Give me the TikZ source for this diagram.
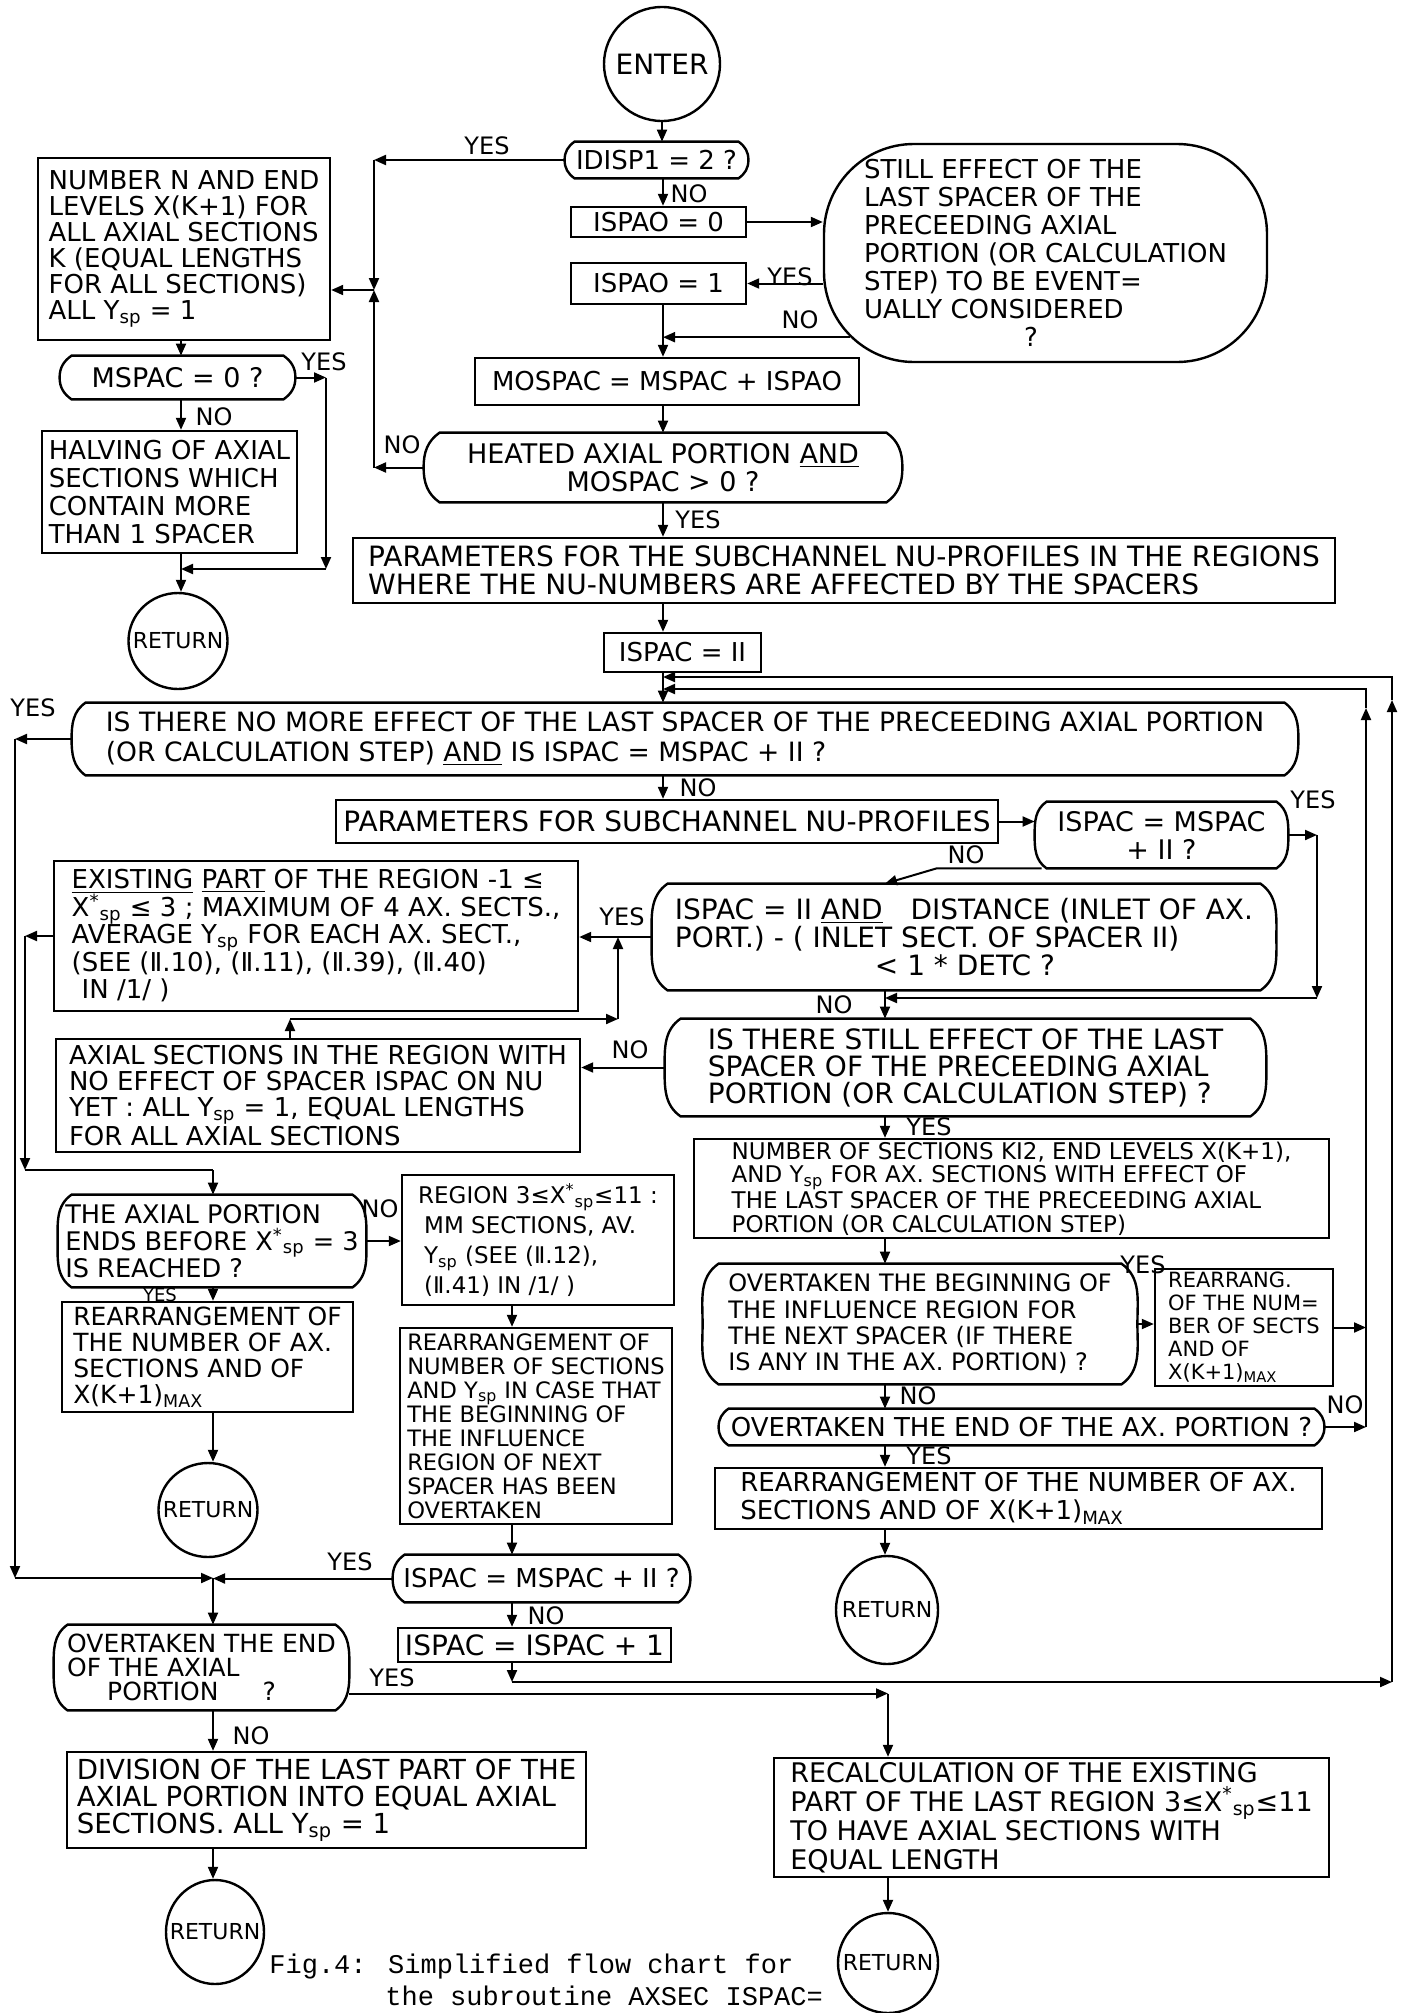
\documentclass[tikz,border=0pt]{standalone}
\usepackage{fontspec}
\setmainfont{DejaVu Sans}
\newfontfamily\capfont{Liberation Mono}
\usetikzlibrary{arrows.meta,shapes.geometric,calc}
\newcommand\Ysp{Y\textsubscript{sp}}
\newcommand\Xsp{X\textsuperscript{*}\textsubscript{sp}}
\newcommand\RII{Ⅱ}
\newcommand\decis[2]{\draw[boxline] ([xshift=#2]#1.north west) -- ([xshift=-#2]#1.north east) to[out=-35,in=90] (#1.east) to[out=-90,in=35] ([xshift=-#2]#1.south east) -- ([xshift=#2]#1.south west) to[out=145,in=-90] (#1.west) to[out=90,in=-145] ([xshift=#2]#1.north west) -- cycle;}
\newcommand\fs[2]{\fontsize{#1}{#2}\selectfont}
\begin{document}
\begin{tikzpicture}[x=0.5pt,y=-0.5pt,
  every node/.style={font=\fs{13}{14}},
  boxline/.style={draw, line width=1.2pt},
  boxn/.style={draw, line width=1.2pt, rectangle, inner sep=0pt, align=left},
  decn/.style={rectangle, inner sep=0pt, align=left},
  term/.style={draw, ellipse, line width=1.2pt, inner sep=0pt, font=\fs{11}{12}},
  lab/.style={font=\fs{12}{12}, inner sep=0pt},
  arr/.style={line width=1pt, -{Triangle[length=6pt,width=5pt]}},
  ln/.style={line width=1pt}]
\useasboundingbox (0,0) rectangle (1404,2013);
% axes
\coordinate (mx) at (663,0);
\coordinate (rx) at (885,0);
\coordinate (lx) at (181,0);
\coordinate (bx) at (213,0);
\coordinate (gx) at (512,0);
% ---------------- nodes
\node[term, minimum width=58pt, minimum height=57pt, font=\fs{14}{14}] (enter) at (662,64) {\makebox[0pt]{ENTER}};
\node[decn, minimum width=91.5pt, minimum height=18pt] (idisp) at (656.5,160) {IDISP1 = 2 ?};
\decis{idisp}{5pt}
\node[boxn, minimum width=87.5pt, minimum height=15pt] (ispao0) at (658.5,222) {ISPAO = 0};
\node[boxn, minimum width=87.5pt, minimum height=20.5pt] (ispao1) at (658.5,283.5) {ISPAO = 1};
\node[boxn, rounded corners=45pt, minimum width=221.5pt, minimum height=109pt] (still) at (1045.5,253) {STILL EFFECT OF THE\\LAST SPACER OF THE\\PRECEEDING AXIAL\\PORTION (OR CALCULATION\\STEP) TO BE EVENT=\\UALLY CONSIDERED\\\hspace*{80pt}?};
\node[boxn, minimum width=192pt, minimum height=23.5pt] (mospac) at (667,381.5) {MOSPAC = MSPAC + ISPAO};
\node[decn, minimum width=239pt, minimum height=34.5pt, align=center, font=\fs{13.5}{14}] (heated) at (663,467.5) {HEATED AXIAL PORTION \underline{AND}\\MOSPAC > 0 ?};
\decis{heated}{8pt}
\node[boxn, minimum width=491pt, minimum height=32.5pt, font=\fs{14}{14}] (params) at (844,570.5) {PARAMETERS FOR THE SUBCHANNEL NU-PROFILES IN THE REGIONS\\WHERE THE NU-NUMBERS ARE AFFECTED BY THE SPACERS};
\node[boxn, minimum width=78.5pt, minimum height=19.5pt] (ispacii) at (682.5,652.5) {ISPAC = II};
\node[decn, minimum width=613pt, minimum height=36pt, font=\fs{13.3}{15}] (isthere) at (685,739) {IS THERE NO MORE EFFECT OF THE LAST SPACER OF THE PRECEEDING AXIAL PORTION\\(OR CALCULATION STEP) \underline{AND} IS ISPAC = MSPAC + II ?};
\decis{isthere}{7pt}
\node[boxn, minimum width=331pt, minimum height=21.5pt, font=\fs{14}{14}] (par2) at (667,821.5) {PARAMETERS FOR SUBCHANNEL NU-PROFILES};
\node[decn, minimum width=126.5pt, minimum height=33pt, align=center, font=\fs{13.5}{14}] (ispmsp) at (1161.5,835) {ISPAC = MSPAC\\+ II ?};
\decis{ispmsp}{6pt}
\node[decn, minimum width=312pt, minimum height=53pt, font=\fs{14}{14}] (ispii) at (964,937) {ISPAC = II \underline{AND}\quad DISTANCE (INLET OF AX.\\PORT.) - ( INLET SECT. OF SPACER II)\\\hspace*{100pt}< 1 * DETC ?};
\decis{ispii}{8pt}
\node[boxn, minimum width=262pt, minimum height=75pt, font=\fs{13}{13.75}] (existing) at (316,936) {\underline{EXISTING} \underline{PART} OF THE REGION -1 ≤\\\Xsp\ ≤ 3 ; MAXIMUM OF 4 AX. SECTS.,\\AVERAGE \Ysp\ FOR EACH AX. SECT.,\\(SEE (\RII.10), (\RII.11), (\RII.39), (\RII.40)\\\hspace*{5pt}IN /1/ )};
\node[boxn, minimum width=262pt, minimum height=56.5pt, font=\fs{13}{13}] (axial) at (318,1095.5) {AXIAL SECTIONS IN THE REGION WITH\\NO EFFECT OF SPACER ISPAC ON NU\\YET : ALL \Ysp\ = 1, EQUAL LENGTHS\\FOR ALL AXIAL SECTIONS};
\node[decn, minimum width=300.5pt, minimum height=48.5pt, font=\fs{14}{13.5}] (still2) at (965.5,1067.5) {IS THERE STILL EFFECT OF THE LAST\\SPACER OF THE PRECEEDING AXIAL\\PORTION (OR CALCULATION STEP) ?};
\decis{still2}{8pt}
\node[boxn, minimum width=317.5pt, minimum height=49.5pt, font=\fs{11.5}{11.8}] (numsec) at (1011.5,1188.5) {NUMBER OF SECTIONS KI2, END LEVELS X(K+1),\\AND \Ysp\ FOR AX. SECTIONS WITH EFFECT OF\\THE LAST SPACER OF THE PRECEEDING AXIAL\\PORTION (OR CALCULATION STEP)};
\node[decn, minimum width=217pt, minimum height=60pt, font=\fs{12}{13.2}] (overbeg) at (920,1324) {OVERTAKEN THE BEGINNING OF\\THE INFLUENCE REGION FOR\\THE NEXT SPACER (IF THERE\\IS ANY IN THE AX. PORTION) ?};
\decis{overbeg}{8pt}
\node[boxn, minimum width=89pt, minimum height=58.5pt, font=\fs{10.5}{11.5}] (rearr1) at (1244,1327.5) {REARRANG.\\OF THE NUM=\\BER OF SECTS\\AND OF\\X(K+1)\textsubscript{MAX}};
\node[decn, minimum width=302.5pt, minimum height=18pt, font=\fs{13}{13}] (overend) at (1021.5,1427) {OVERTAKEN THE END OF THE AX. PORTION ?};
\decis{overend}{5pt}
\node[boxn, minimum width=303.5pt, minimum height=30.5pt, font=\fs{13}{14}] (rearr2) at (1018.5,1498.5) {REARRANGEMENT OF THE NUMBER OF AX.\\SECTIONS AND OF X(K+1)\textsubscript{MAX}};
\node[term, minimum width=51pt, minimum height=54pt] (ret3) at (887,1610) {\makebox[0pt]{RETURN}};
\node[decn, minimum width=154pt, minimum height=46pt, font=\fs{12.8}{13.5}] (axend) at (212,1241) {THE AXIAL PORTION\\ENDS BEFORE \Xsp\ = 3\\IS REACHED ?};
\decis{axend}{7pt}
\node[boxn, minimum width=136pt, minimum height=65pt, font=\fs{11.5}{15}] (region) at (538,1240) {REGION 3≤\Xsp≤11 :\\\hspace*{3pt}MM SECTIONS, AV.\\\hspace*{3pt}\Ysp\ (SEE (\RII.12),\\\hspace*{3pt}(\RII.41) IN /1/ )};
\node[boxn, minimum width=145.5pt, minimum height=55pt, font=\fs{12.5}{13}] (rearr3) at (207.5,1357) {REARRANGEMENT OF\\THE NUMBER OF AX.\\SECTIONS AND OF\\X(K+1)\textsubscript{MAX}};
\node[term, minimum width=49.5pt, minimum height=47pt] (ret2) at (208,1510) {\makebox[0pt]{RETURN}};
\node[boxn, minimum width=136pt, minimum height=98pt, font=\fs{11.3}{12}] (rearr4) at (536,1426) {REARRANGEMENT OF\\NUMBER OF SECTIONS\\AND \Ysp\ IN CASE THAT\\THE BEGINNING OF\\THE INFLUENCE\\REGION OF NEXT\\SPACER HAS BEEN\\OVERTAKEN};
\node[decn, minimum width=148.5pt, minimum height=23.5pt, font=\fs{13}{13}] (ispmsp2) at (541.5,1578.5) {ISPAC = MSPAC + II ?};
\decis{ispmsp2}{6pt}
\node[boxn, minimum width=136.5pt, minimum height=17pt, font=\fs{14}{14}] (ispinc) at (534.5,1645) {ISPAC = ISPAC + 1};
\node[decn, minimum width=147.5pt, minimum height=42.5pt, font=\fs{12.5}{12}] (overend2) at (201.5,1667.5) {OVERTAKEN THE END\\OF THE AXIAL\\\hspace*{20pt}PORTION\hspace*{22pt}?};
\decis{overend2}{7pt}
\node[boxn, minimum width=259.5pt, minimum height=48pt, font=\fs{13.8}{13.5}] (division) at (326.5,1800) {DIVISION OF THE LAST PART OF THE\\AXIAL PORTION INTO EQUAL AXIAL\\SECTIONS. ALL \Ysp\ = 1};
\node[boxn, minimum width=277.5pt, minimum height=59.5pt, font=\fs{13.5}{14.5}] (recalc) at (1051.5,1817.5) {RECALCULATION OF THE EXISTING\\PART OF THE LAST REGION 3≤\Xsp≤11\\TO HAVE AXIAL SECTIONS WITH\\EQUAL LENGTH};
\node[term, minimum width=49pt, minimum height=52pt] (ret4) at (215,1932) {\makebox[0pt]{RETURN}};
\node[term, minimum width=50pt, minimum height=50pt] (ret5) at (888,1963) {\makebox[0pt]{RETURN}};
\node[term, minimum width=49.5pt, minimum height=48pt] (ret1) at (178,641) {\makebox[0pt]{RETURN}};
\node[boxn, minimum width=146pt, minimum height=91pt, font=\fs{13}{13}] (number) at (184,249) {NUMBER N AND END\\LEVELS X(K+1) FOR\\ALL AXIAL SECTIONS\\K (EQUAL LENGTHS\\FOR ALL SECTIONS)\\ALL \Ysp\ = 1};
\node[decn, minimum width=117.5pt, minimum height=21.5pt, font=\fs{13.5}{14}] (mspac) at (177.5,377.5) {MSPAC = 0 ?};
\decis{mspac}{6pt}
\node[boxn, minimum width=127.5pt, minimum height=61pt, font=\fs{13}{14}] (halving) at (169.5,492) {HALVING OF AXIAL\\SECTIONS WHICH\\CONTAIN MORE\\THAN 1 SPACER};
% caption
\node[anchor=base west, inner sep=0pt, font=\capfont\fs{13.5}{14}] (cap1) at (269,1973) {Fig.4: Simplified flow chart for};
\node[anchor=base west, inner sep=0pt, font=\capfont\fs{13.5}{14}] (cap2) at (385,2005) {the subroutine AXSEC ISPAC=};
% ---------------- connectors top
\draw[arr] (enter.south) -- (idisp.north -| enter.south);
\coordinate (jB) at (374,290);
\draw[arr] (idisp.west) -- (idisp.west -| jB);
\draw[arr] (idisp.west -| jB) -- (jB);
\draw[arr] (heated.west) -- (heated.west -| jB);
\draw[arr] (heated.west -| jB) -- (jB);
\draw[arr] (jB) -- (jB -| number.east);
\node[lab] (l1) at (487,146) {YES};
\node[lab] (l2) at (402,445) {NO};
\draw[arr] (idisp.south -| mx) -- (ispao0.north -| mx);
\node[lab] (l3) at (689,194) {NO};
\draw[arr] (ispao0.east) -- (ispao0.east -| still.west);
\draw[arr] (ispao1.east -| still.west) -- (ispao1.east);
\node[lab] (l4) at (790,277) {YES};
\coordinate (stno) at ([xshift=13.5pt,yshift=13pt]still.south west);
\draw[arr] (stno) -- (stno -| mx);
\node[lab] (l5) at (800,320) {NO};
\draw[arr] (ispao1.south -| mx) -- (mospac.north -| mx);
\draw[arr] (mospac.south -| mx) -- (heated.north -| mx);
\draw[arr] (heated.south -| mx) -- (params.north -| mx);
\node[lab] (l6) at (698,520) {YES};
\draw[arr] (params.south -| mx) -- (ispacii.north -| mx);
\draw[arr] (ispacii.south -| mx) -- (isthere.north -| mx);
% loops on the right
\coordinate (o1) at (1392,1682); \coordinate (o2) at (1392,700); \coordinate (o3) at (1392,677);
\coordinate (i1) at (1366,1427); \coordinate (i2) at (1366,708); \coordinate (i3) at (1366,689);
\draw[arr] (o1) -- (o2);
\draw[arr] (o2) -- (o3) -- (o3 -| mx);
\draw[arr] (i1) -- (i2);
\draw[arr] (i2) -- (i3) -- (i3 -| mx);
\draw[arr] (rearr1.east) -- (rearr1.east -| i1);
\draw[arr] (overend.east) -- (overend.east -| i1);
\node[lab] (l7) at (1345,1405) {NO};
\draw[arr] (ispinc.south -| gx) -- (o1 -| gx);
\draw[arr] (o1 -| gx) -- (o1);
% IS THERE yes, far left
\coordinate (fl) at (15,0);
\coordinate (jJ) at (213,1578);
\draw[arr] (isthere.west) -- (isthere.west -| fl);
\draw[arr] (isthere.west -| fl) -- (fl |- jJ);
\draw[arr] (fl |- jJ) -- (jJ);
\draw[arr] (ispmsp2.west) -- (ispmsp2.west -| jJ);
\draw[arr] (jJ) -- (overend2.north -| jJ);
\node[lab] (l8) at (33,708) {YES};
\node[lab] (l9) at (350,1562) {YES};
% middle
\draw[arr] (isthere.south -| mx) -- (par2.north -| mx);
\node[lab] (l10) at (698,788) {NO};
\draw[arr] (par2.east) -- (par2.east -| ispmsp.west);
\coordinate (yx) at (1317,998);
\draw[arr] (ispmsp.east) -- (ispmsp.east -| yx);
\draw[arr] (ispmsp.east -| yx) -- (yx);
\draw[arr] (yx) -- (yx -| rx);
\node[lab] (l11) at (1313,800) {YES};
\coordinate (nA) at ([xshift=-60pt]ispmsp.south);
\draw[arr] (nA) -- ++(-105,0) -- (ispii.north -| rx);
\node[lab] (l12) at (966,855) {NO};
\draw[arr] (ispii.west) -- (ispii.west -| existing.east);
\node[lab] (l13) at (622,917) {YES};
\coordinate (ay) at (0,1019);
\coordinate (ax) at (290,0);
\coordinate (ux) at (618,0);
\draw[arr] (axial.north -| ax) -- (ax |- ay);
\draw[arr] (ax |- ay) -- (ux |- ay);
\draw[arr] (ux |- ay) -- (ux |- ispii.west);
\draw[arr] (ispii.south -| rx) -- (still2.north -| rx);
\node[lab] (l14) at (834,1005) {NO};
\draw[arr] (still2.west) -- (still2.west -| axial.east);
\node[lab] (l15) at (630,1050) {NO};
\draw[arr] (still2.south -| rx) -- (numsec.north -| rx);
\node[lab] (l16) at (929,1127) {YES};
\draw[arr] (numsec.south -| rx) -- (overbeg.north -| rx);
\draw[arr] (overbeg.east) -- (overbeg.east -| rearr1.west);
\node[lab] (l17) at (1143,1265) {YES};
\draw[arr] (overbeg.south -| rx) -- (overend.north -| rx);
\node[lab] (l18) at (918,1396) {NO};
\draw[arr] (overend.south -| rx) -- (rearr2.north -| rx);
\node[lab] (l19) at (929,1456) {YES};
\draw[arr] (rearr2.south -| rx) -- (ret3.north -| rx);
% left top
\draw[arr] (number.south -| lx) -- (mspac.north -| lx);
\coordinate (mx2) at (326,0);
\coordinate (my) at (0,569);
\draw[arr] (mspac.east) -- (mspac.east -| mx2);
\draw[arr] (mspac.east -| mx2) -- (mx2 |- my);
\draw[arr] (mx2 |- my) -- (lx |- my);
\node[lab] (l20) at (324,362) {YES};
\draw[arr] (mspac.south -| lx) -- (halving.north -| lx);
\node[lab] (l21) at (214,417) {NO};
\draw[arr] (halving.south -| lx) -- (ret1.north -| lx);
% left lower
\coordinate (ex) at (25,0);
\coordinate (ey) at (0,1170);
\draw[arr] (existing.west) -- (existing.west -| ex);
\draw[arr] (existing.west -| ex) -- (ex |- ey);
\draw[ln] (ex |- ey) -- (bx |- ey);
\draw[arr] (bx |- ey) -- (axend.north -| bx);
\draw[arr] (axend.east) -- (axend.east -| region.west);
\node[lab] (l22) at (380,1209) {NO};
\draw[arr] (axend.south -| bx) -- (rearr3.north -| bx);
\node[lab, font=\fs{9}{9}] (l23) at (160,1295) {YES};
\draw[arr] (rearr3.south -| bx) -- (ret2.north -| bx);
\draw[arr] (region.south -| gx) -- (rearr4.north -| gx);
\draw[arr] (rearr4.south -| gx) -- (ispmsp2.north -| gx);
\draw[arr] (ispmsp2.south -| gx) -- (ispinc.north -| gx);
\node[lab] (l24) at (546,1616) {NO};
\coordinate (oy) at ([yshift=-13pt]overend2.east);
\coordinate (rcx) at (888,0);
\draw[arr] (oy) -- (oy -| rcx);
\draw[arr] (oy -| rcx) -- (recalc.north -| rcx);
\node[lab] (l25) at (392,1678) {YES};
\draw[arr] (overend2.south -| bx) -- (division.north -| bx);
\node[lab] (l26) at (251,1736) {NO};
\draw[arr] (division.south -| bx) -- (ret4.north -| bx);
\draw[arr] (recalc.south -| rcx) -- (ret5.north -| rcx);
\end{tikzpicture}
\end{document}
